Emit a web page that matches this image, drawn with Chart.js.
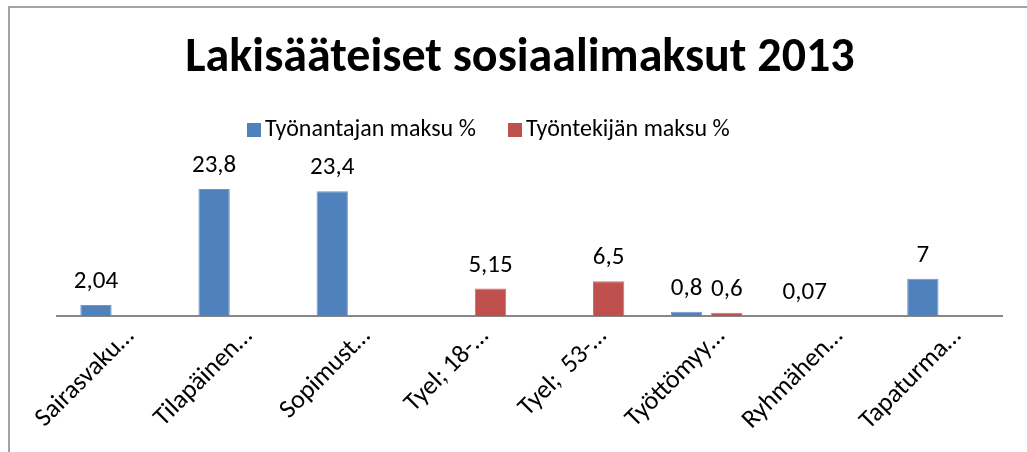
<!DOCTYPE html>
<html>
<head>
<meta charset="utf-8">
<script src="https://cdn.jsdelivr.net/npm/chart.js@4/dist/chart.umd.min.js"></script>
<style>
html,body{margin:0;padding:0;background:#fff;}
#wrap{width:1027px;height:452px;position:relative;}
</style>
</head>
<body>
<div id="wrap"><canvas id="c" width="1027" height="452"></canvas></div>
<script>
const titleText = "Lakisääteiset sosiaalimaksut 2013";
const categories = ["Sairasvaku…", "Tilapäinen…", "Sopimust…", "Tyel; 18-…", "Tyel;  53-…", "Työttömyy…", "Ryhmähen…", "Tapaturma…"];
const seriesNames = ["Työnantajan maksu %", "Työntekijän maksu %"];
const employerValues = [2.04, 23.8, 23.4, null, null, 0.8, 0.07, 7];
const employeeValues = [null, null, null, 5.15, 6.5, 0.6, null, null];
const seriesColors = ["#4F81BD", "#C0504D"];

const FONT = "Carlito, Lato, 'Liberation Sans', sans-serif";

const framePlugin = {
  id: 'frame',
  beforeDraw(chart) {
    const ctx = chart.ctx;
    ctx.save();
    ctx.fillStyle = '#fff';
    ctx.fillRect(0, 0, chart.width, chart.height);
    ctx.strokeStyle = '#878787';
    ctx.lineWidth = 1.5;
    ctx.beginPath();
    ctx.moveTo(9, 460);
    ctx.lineTo(9, 7);
    ctx.lineTo(1030, 7);
    ctx.stroke();
    ctx.restore();
  }
};

const legendPlugin = {
  id: 'customLegend',
  afterDraw(chart) {
    const ctx = chart.ctx;
    ctx.save();
    ctx.font = "24px " + FONT;
    ctx.textBaseline = 'middle';
    ctx.textAlign = 'left';
    const positions = [247, 508];
    chart.data.datasets.forEach((ds, i) => {
      const x = positions[i];
      ctx.fillStyle = ds.backgroundColor;
      ctx.fillRect(x, 123, 14, 14);
      ctx.fillStyle = '#000';
      ctx.fillText(ds.label, x + 18, 130);
    });
    ctx.restore();
  }
};

const tickLabelPlugin = {
  id: 'rotatedTicks',
  afterDraw(chart) {
    const ctx = chart.ctx;
    const sx = chart.scales.x;
    ctx.save();
    ctx.font = "26px " + FONT;
    ctx.fillStyle = '#000';
    ctx.textAlign = 'right';
    ctx.textBaseline = 'alphabetic';
    chart.data.labels.forEach((lab, i) => {
      const x = sx.getPixelForTick(i) + 19;
      const y = sx.top + 21;
      ctx.save();
      ctx.translate(x, y);
      ctx.rotate(-Math.PI / 4);
      ctx.fillText(lab, 0, 0);
      ctx.restore();
    });
    ctx.restore();
  }
};

const labelPlugin = {
  id: 'valueLabels',
  afterDatasetsDraw(chart) {
    const ctx = chart.ctx;
    ctx.save();
    ctx.font = "25px " + FONT;
    ctx.fillStyle = '#000';
    ctx.textAlign = 'center';
    ctx.textBaseline = 'alphabetic';
    chart.data.datasets.forEach((ds, i) => {
      const meta = chart.getDatasetMeta(i);
      meta.data.forEach((el, j) => {
        const v = ds.data[j];
        if (v === null || v === undefined) return;
        ctx.fillText(String(v).replace('.', ','), el.x, el.y - 17);
      });
    });
    ctx.restore();
  }
};

new Chart(document.getElementById('c'), {
  type: 'bar',
  data: {
    labels: categories,
    datasets: [
      { label: seriesNames[0], data: employerValues, backgroundColor: seriesColors[0], borderColor: '#6F97CB', borderWidth: 1, categoryPercentage: 0.68, barPercentage: 0.78 },
      { label: seriesNames[1], data: employeeValues, backgroundColor: seriesColors[1], borderColor: '#CC6F6C', borderWidth: 1, categoryPercentage: 0.68, barPercentage: 0.78 }
    ]
  },
  options: {
    responsive: false,
    animation: false,
    layout: { padding: { left: 38, right: 25, top: 0, bottom: 0 } },
    plugins: {
      title: {
        display: true,
        text: titleText,
        color: '#000',
        font: { family: FONT, size: 48, weight: 'bold' },
        padding: { top: 30, bottom: 95 }
      },
      legend: { display: false },
      tooltip: { enabled: false }
    },
    scales: {
      x: {
        grid: { display: false, drawTicks: false },
        border: { display: true, color: '#878787', width: 2 },
        ticks: { display: false, autoSkip: false },
        afterFit(s) { s.height = 136; }
      },
      y: {
        display: true,
        min: 0,
        max: 25,
        grid: { display: false, drawTicks: false },
        border: { display: false },
        ticks: { display: false },
        afterFit(s) { s.width = 19; }
      }
    }
  },
  plugins: [framePlugin, legendPlugin, tickLabelPlugin, labelPlugin]
});
</script>
</body>
</html>
